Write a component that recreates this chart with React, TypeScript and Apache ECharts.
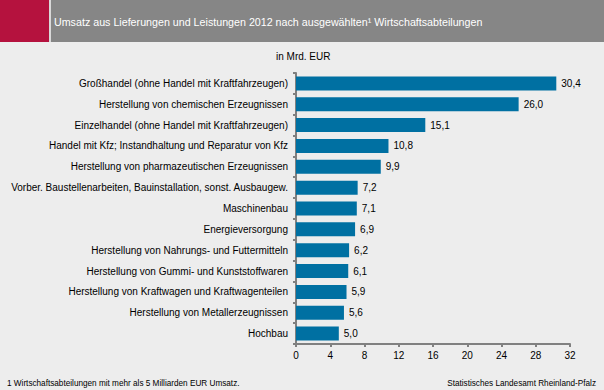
import React, { useEffect, useRef } from "react";
import * as echarts from "echarts";

const categories = [
  "Großhandel (ohne Handel mit Kraftfahrzeugen)",
  "Herstellung von chemischen Erzeugnissen",
  "Einzelhandel (ohne Handel mit Kraftfahrzeugen)",
  "Handel mit Kfz; Instandhaltung und Reparatur von Kfz",
  "Herstellung von pharmazeutischen Erzeugnissen",
  "Vorber. Baustellenarbeiten, Bauinstallation, sonst. Ausbaugew.",
  "Maschinenbau",
  "Energieversorgung",
  "Herstellung von Nahrungs- und Futtermitteln",
  "Herstellung von Gummi- und Kunststoffwaren",
  "Herstellung von Kraftwagen und Kraftwagenteilen",
  "Herstellung von Metallerzeugnissen",
  "Hochbau",
];
const values = [30.4, 26.0, 15.1, 10.8, 9.9, 7.2, 7.1, 6.9, 6.2, 6.1, 5.9, 5.6, 5.0];

const title = "Umsatz aus Lieferungen und Leistungen 2012 nach ausgewählten¹ Wirtschaftsabteilungen";
const unitLabel = "in Mrd. EUR";
const footnote = "1 Wirtschaftsabteilungen mit mehr als 5 Milliarden EUR Umsatz.";
const source = "Statistisches Landesamt Rheinland-Pfalz";

const FONT = "'Liberation Sans', Arial, sans-serif";

export default function App() {
  const ref = useRef<HTMLDivElement>(null);
  useEffect(() => {
    if (!ref.current) return;
    const chart = echarts.init(ref.current, null, { renderer: "svg" });
    chart.setOption({
      animation: false,
      backgroundColor: "#EDEDED",
      textStyle: { fontFamily: FONT },
      graphic: [
        { type: "rect", shape: { x: 0, y: 0, width: 49, height: 42 }, style: { fill: "#B5123E" } },
        { type: "rect", shape: { x: 49, y: 0, width: 2, height: 42 }, style: { fill: "#D9D9D9" } },
        { type: "rect", shape: { x: 51, y: 0, width: 553, height: 42 }, style: { fill: "#868686" } },
        {
          type: "text",
          x: 54,
          y: 22,
          style: { text: title, fill: "#FFFFFF", font: `10.7px ${FONT}`, textVerticalAlign: "middle" },
        },
        {
          type: "text",
          x: 276,
          y: 56,
          style: { text: unitLabel, fill: "#000000", font: `10px ${FONT}`, textVerticalAlign: "middle" },
        },
        {
          type: "text",
          x: 7,
          y: 383,
          style: { text: footnote, fill: "#000000", font: `8.2px ${FONT}`, textVerticalAlign: "middle" },
        },
        {
          type: "text",
          x: 596,
          y: 383,
          style: { text: source, fill: "#000000", font: `8.2px ${FONT}`, textAlign: "right", textVerticalAlign: "middle" },
        },
      ],
      grid: { left: 296, right: 34, top: 73, bottom: 46, containLabel: false },
      xAxis: {
        type: "value",
        min: 0,
        max: 32,
        interval: 4,
        axisLine: { show: true, lineStyle: { color: "#808080", width: 2 } },
        axisTick: { show: true, length: 3, lineStyle: { color: "#808080", width: 2 } },
        axisLabel: { color: "#000000", fontSize: 10, fontFamily: FONT, margin: 6 },
        splitLine: { show: false },
      },
      yAxis: {
        type: "category",
        inverse: true,
        data: categories,
        axisLine: { show: true, lineStyle: { color: "#808080", width: 2 } },
        axisTick: { show: true, length: 3, lineStyle: { color: "#808080", width: 2 } },
        axisLabel: { color: "#000000", fontSize: 10, fontFamily: FONT, margin: 8 },
      },
      series: [
        {
          type: "bar",
          data: values,
          barWidth: 14,
          itemStyle: { color: "#0070A2" },
          label: {
            show: true,
            position: "right",
            distance: 5,
            color: "#000000",
            fontSize: 10,
            fontFamily: FONT,
            formatter: (p: any) => Number(p.value).toFixed(1).replace(".", ","),
          },
        },
      ],
    });
    return () => chart.dispose();
  }, []);
  return (
    <div
      ref={ref}
      style={{ position: "fixed", left: 0, top: 0, width: 604, height: 390 }}
    />
  );
}
